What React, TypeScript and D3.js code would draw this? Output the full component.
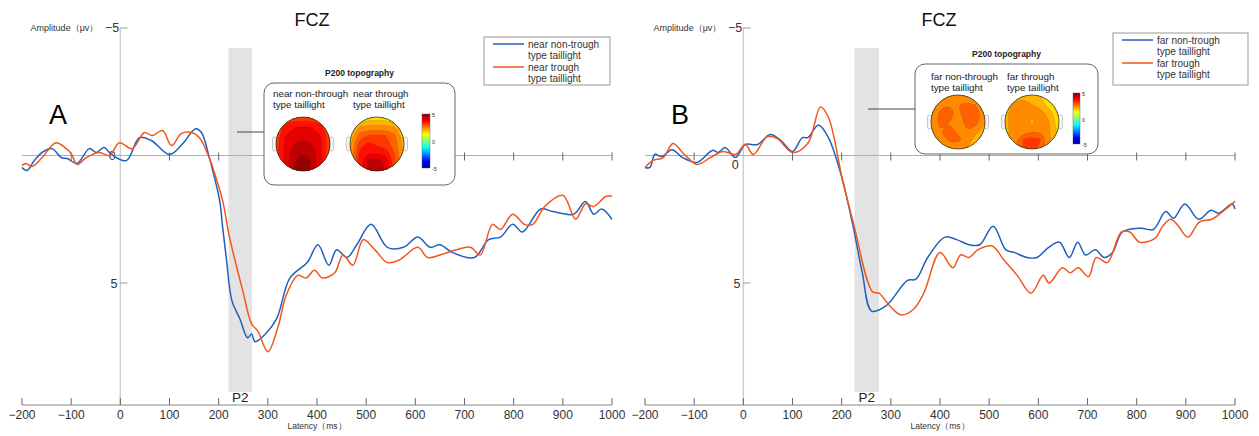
import React from 'react';
import * as d3 from 'd3';

// latency ticks (ms)
const latencyTicks = d3.range(-200, 1001, 100);

// panel A: near condition, [ms, µV]
const nearNonTrough: [number, number][] = [
  [-200, 0.47], [-190, 0.59], [-175, 0.2], [-159, -0.12], [-139, -0.27], [-120, 0.08], [-108, 0.12],
  [-88, 0.31], [-63, -0.27], [-49, -0.12], [-33, -0.31], [-18, -0.04], [12, 0.2], [39, -0.7],
  [63, -0.59], [100, -0.04], [127, -0.47], [153, -1.05], [165, -0.9], [181, 0.08], [188, 0.6],
  [202, 1.76], [208, 2.8], [216, 4.1], [227, 5.7], [243, 6.4], [259, 7.15], [267, 7.0], [274, 7.3],
  [295, 7.0], [318, 6.4], [345, 4.8], [380, 4.2], [402, 3.5], [424, 4.3], [440, 3.7], [461, 4.0],
  [481, 3.5], [510, 2.7], [543, 3.6], [576, 3.6], [605, 3.2], [630, 3.6], [650, 3.5], [675, 3.8],
  [720, 4.0], [749, 3.3], [773, 3.2], [798, 2.7], [818, 3.0], [855, 2.1], [880, 2.2], [922, 2.3],
  [946, 1.8], [963, 2.3], [979, 2.1], [1000, 2.5],
];
const nearTrough: [number, number][] = [
  [-200, 0.39], [-192, 0.31], [-180, 0.43], [-159, 0.08], [-131, -0.5], [-110, -0.27], [-100, -0.08],
  [-88, 0.35], [-69, 0.08], [-43, -0.12], [-22, 0], [-2, -0.5], [24, -0.27], [49, -0.9], [65, -0.78],
  [86, -0.98], [104, -0.39], [124, -0.86], [145, -0.9], [161, -0.7], [181, 0.1], [195, 0.9],
  [208, 1.76], [222, 3.2], [237, 4.4], [249, 5.3], [267, 6.6], [280, 6.9], [300, 7.7], [321, 6.7],
  [337, 5.5], [361, 4.7], [378, 4.8], [395, 4.5], [411, 4.8], [436, 4.6], [453, 3.9], [473, 4.3],
  [494, 3.3], [518, 3.7], [543, 4.2], [567, 4.1], [605, 3.6], [625, 4.0], [650, 3.9], [683, 3.7],
  [712, 3.6], [732, 3.9], [757, 2.7], [773, 2.9], [798, 2.3], [822, 2.7], [839, 2.7], [863, 2.0],
  [900, 1.56], [926, 2.5], [946, 1.9], [963, 2.0], [988, 1.6], [1000, 1.6],
];

// panel B: far condition, [ms, µV]
const farNonTrough: [number, number][] = [
  [-200, 0.47], [-190, 0.47], [-180, -0.04], [-166, 0.04], [-145, -0.23], [-124, 0.08], [-94, 0.27],
  [-63, -0.2], [-51, -0.12], [-37, -0.31], [-16, 0.08], [4, -0.43], [29, -0.43], [55, -0.82],
  [76, -0.59], [100, -0.16], [120, -0.7], [131, -0.7], [153, -1.2], [173, -0.7], [198, 0.7],
  [222, 2.66], [242, 4.6], [261, 6.1], [290, 5.9], [334, 4.9], [351, 4.85], [375, 4.0], [410, 3.2],
  [434, 3.3], [459, 3.5], [481, 3.5], [508, 2.77], [534, 3.7], [551, 3.8], [577, 4.0], [597, 4.0],
  [621, 3.6], [643, 3.4], [663, 4.0], [680, 3.4], [696, 3.9], [716, 3.7], [734, 4.0], [751, 3.8],
  [771, 3.0], [808, 2.85], [834, 2.9], [859, 2.2], [875, 2.46], [898, 1.9], [926, 2.5], [951, 2.15],
  [967, 2.26], [994, 1.9], [1000, 2.1],
];
const farTrough: [number, number][] = [
  [-200, 0.47], [-184, 0.2], [-163, 0.08], [-143, -0.47], [-122, -0.08], [-94, 0.35], [-67, 0.08],
  [-41, -0.16], [-16, -0.04], [4, -0.43], [20, -0.04], [49, -0.74], [69, -0.66], [100, -0.12],
  [131, -0.47], [157, -1.9], [173, -1.5], [202, 0.98], [224, 2.66], [263, 5.35], [276, 5.4],
  [298, 5.9], [320, 6.25], [345, 6.05], [367, 5.4], [400, 3.8], [426, 4.4], [442, 3.9], [459, 4.0],
  [477, 3.7], [506, 3.55], [530, 4.1], [557, 4.7], [585, 5.4], [610, 4.7], [622, 5.0], [649, 4.4],
  [665, 4.6], [681, 4.4], [702, 4.75], [718, 4.0], [740, 4.2], [769, 3.0], [786, 3.0], [806, 3.4],
  [837, 3.25], [853, 2.77], [869, 2.5], [882, 2.7], [904, 3.2], [928, 2.6], [953, 2.5], [978, 2.15],
  [1000, 1.8],
];

// P200 topography grids (µV), rows front -> back
const topoNearNonTrough = [
  [2.8, 3.0, 3.2, 3.2, 3.2, 3.0, 2.8],
  [3.0, 3.6, 3.8, 3.8, 3.8, 3.6, 3.0],
  [3.2, 3.8, 4.0, 4.1, 4.0, 3.8, 3.2],
  [3.3, 3.9, 4.2, 4.3, 4.2, 3.9, 3.2],
  [3.3, 4.0, 4.4, 4.6, 4.4, 3.9, 3.1],
  [3.2, 4.0, 4.6, 4.9, 4.6, 3.9, 3.0],
  [3.0, 3.8, 4.6, 5.0, 4.5, 3.6, 2.8],
];
const topoNearTrough = [
  [1.2, 1.4, 1.6, 1.6, 1.6, 1.4, 1.2],
  [1.8, 2.2, 2.3, 2.3, 2.3, 2.2, 1.8],
  [2.0, 2.8, 3.0, 3.0, 3.0, 2.7, 2.0],
  [2.2, 3.2, 3.5, 3.3, 3.2, 2.8, 2.1],
  [2.3, 3.5, 3.8, 3.7, 3.6, 3.0, 2.2],
  [2.3, 3.6, 4.3, 4.4, 4.1, 3.2, 2.2],
  [2.2, 3.4, 4.4, 4.6, 4.2, 3.0, 2.0],
];
const topoFarNonTrough = [
  [2.0, 2.2, 2.3, 2.3, 2.3, 2.2, 2.0],
  [2.2, 2.5, 2.6, 2.6, 2.7, 2.6, 2.3],
  [2.3, 2.7, 2.8, 2.5, 2.8, 2.9, 2.4],
  [2.3, 2.8, 2.6, 2.4, 2.7, 2.8, 2.3],
  [2.2, 2.6, 2.7, 2.5, 2.6, 2.4, 2.0],
  [2.1, 2.4, 2.7, 2.7, 2.5, 2.0, 1.3],
  [2.0, 2.2, 2.4, 2.4, 2.2, 1.6, 1.0],
];
const topoFarTrough = [
  [1.8, 2.0, 2.1, 2.0, 1.8, 1.5, 1.2],
  [2.0, 2.3, 2.4, 2.2, 2.0, 1.6, 1.3],
  [2.1, 2.5, 2.6, 2.3, 2.4, 2.0, 1.5],
  [2.1, 2.5, 2.4, 2.1, 2.4, 2.2, 1.6],
  [2.1, 2.4, 2.3, 2.5, 2.5, 2.2, 1.7],
  [2.0, 2.5, 3.0, 3.2, 3.0, 2.3, 1.8],
  [1.9, 2.3, 3.0, 3.2, 2.9, 2.1, 1.7],
];

const jetColors = ['#00008f', '#0000ff', '#0080ff', '#00ffff', '#80ff80', '#ffff00', '#ff8000', '#ff0000', '#800000'];
const jet = d3.scaleLinear<string>().domain(d3.range(9).map(i => -5 + i * 1.25)).range(jetColors).clamp(true);

const BLUE = '#1f5fbf';
const RED = '#f2561d';
const FONT = '"Liberation Sans", Arial, Helvetica, sans-serif';

const yScale = d3.scaleLinear().domain([-5, 5]).range([28, 283]);
const AXIS_Y = 405;

function Head({ cx, cy, r, grid, id }: { cx: number; cy: number; r: number; grid: number[][]; id: string }) {
  const n = grid.length;
  const m = grid[0].length;
  const contours = d3.contours().size([m, n]).thresholds(d3.range(-5, 5.01, 0.4))(grid.flat());
  // grid is stretched a little past the scalp so the square corners fall outside
  const pad = 1.12;
  const sx = (x: number) => cx - r * pad + (x / m) * 2 * r * pad;
  const sy = (y: number) => cy - r * pad + (y / n) * 2 * r * pad;
  const ringLine = d3.line<number[]>().x(q => sx(q[0])).y(q => sy(q[1])).curve(d3.curveBasisClosed);
  const pathOf = (mp: d3.ContourMultiPolygon) =>
    mp.coordinates.map(poly => poly.map(ring => ringLine(ring.slice(0, -1)) || '').join('')).join('');
  const minV = d3.min(grid.flat()) as number;
  return (
    <g>
      <clipPath id={id}><circle cx={cx} cy={cy} r={r} /></clipPath>
      {/* ears */}
      <rect x={cx - r - 3.5} y={cy - 7} width={4.5} height={14} rx={2} fill="#f4f4f4" stroke="#aaa" strokeWidth={0.6} />
      <rect x={cx + r - 1} y={cy - 7} width={4.5} height={14} rx={2} fill="#f4f4f4" stroke="#aaa" strokeWidth={0.6} />
      <g clipPath={`url(#${id})`}>
        <circle cx={cx} cy={cy} r={r} fill={jet(minV)} />
        {contours.filter(c => c.coordinates.length).map((c, i) => (
          <path key={i} d={pathOf(c)} fill={jet(c.value + 0.2)} stroke="#333" strokeOpacity={0.4} strokeWidth={0.35} fillRule="evenodd" />
        ))}
      </g>
      <circle cx={cx} cy={cy} r={r} fill="none" stroke="#222" strokeWidth={0.7} />
    </g>
  );
}

type Inset = {
  box: [number, number, number, number];
  titleY: number;
  labels: [string, string];
  labelX: [number, number];
  labelY: number;
  heads: [number, number][];
  r: number;
  grids: number[][][];
  bar: [number, number, number, number];
  link: [number, number, number];
};

type PanelProps = {
  id: string;
  letter: string;
  letterX: number;
  xRange: [number, number];
  blue: [number, number][];
  red: [number, number][];
  band: [number, number];
  titleX: number;
  legend: [number, number, number, number];
  legendLabels: [string, string];
  inset: Inset;
  zeroLabelY: number;
};

function Panel(p: PanelProps) {
  const x = d3.scaleLinear().domain([-200, 1000]).range(p.xRange);
  const y = yScale;
  const line = d3.line<[number, number]>().x(d => x(d[0])).y(d => y(d[1])).curve(d3.curveCatmullRom.alpha(0.5));
  const x0 = x(0);
  const [lx, ly, lw, lh] = p.legend;
  const ins = p.inset;
  const [bx, by, bw, bh] = ins.box;
  const [cbx, cby, cbw, cbh] = ins.bar;
  return (
    <g fontFamily={FONT}>
      {/* P2 window */}
      <rect x={x(p.band[0])} y={48} width={x(p.band[1]) - x(p.band[0])} height={344} fill="#e3e3e3" />
      <text x={(x(p.band[0]) + x(p.band[1])) / 2} y={402} textAnchor="middle" fontSize={13.5} fill="#222">P2</text>

      {/* y axis */}
      <line x1={x0} x2={x0} y1={y(-5)} y2={AXIS_Y} stroke="#cfcfcf" strokeWidth={1.5} />
      {[-5, 5].map(v => (
        <line key={v} x1={x0} x2={x0 + 7} y1={y(v)} y2={y(v)} stroke="#999" strokeWidth={1} />
      ))}
      <text x={x0 - 1} y={y(-5) + 4} textAnchor="end" fontSize={12.5} fill="#333">−5</text>
      <text x={x0 - 3} y={y(5) + 5} textAnchor="end" fontSize={12.5} fill="#333">5</text>
      <text x={x0 - 22} y={y(-5) + 3} textAnchor="end" fontSize={9} fill="#333">Amplitude（μv）</text>
      <text x={x0 - 8} y={p.zeroLabelY} textAnchor="middle" fontSize={12.5} fill="#333">0</text>

      {/* zero line */}
      <line x1={x(-200)} x2={x(1000)} y1={y(0)} y2={y(0)} stroke="#b0b0b0" strokeWidth={1.2} />
      {latencyTicks.filter(t => t !== 0 && t !== -200).map(t => (
        <line key={t} x1={x(t)} x2={x(t)} y1={y(0) - 3} y2={y(0) + 5} stroke="#666" strokeWidth={1} />
      ))}

      {/* x axis */}
      <line x1={x(-200)} x2={x(1000)} y1={AXIS_Y} y2={AXIS_Y} stroke="#888" strokeWidth={1} />
      {latencyTicks.map(t => (
        <g key={t}>
          <line x1={x(t)} x2={x(t)} y1={AXIS_Y - 7} y2={AXIS_Y} stroke="#666" strokeWidth={1} />
          <text x={x(t)} y={AXIS_Y + 14} textAnchor="middle" fontSize={12} fill="#333">{t < 0 ? `−${-t}` : t}</text>
        </g>
      ))}
      <text x={x(400)} y={AXIS_Y + 24} textAnchor="middle" fontSize={8.5} fill="#333">Latency（ms）</text>

      {/* ERP waves */}
      <path d={line(p.blue) || ''} fill="none" stroke={BLUE} strokeWidth={1.5} />
      <path d={line(p.red) || ''} fill="none" stroke={RED} strokeWidth={1.5} />

      <text x={p.letterX} y={124} fontSize={27} fill="#000">{p.letter}</text>
      <text x={p.titleX} y={26} textAnchor="middle" fontSize={18} fill="#111">FCZ</text>

      {/* legend */}
      <rect x={lx} y={ly} width={lw} height={lh} fill="white" stroke="#999" strokeWidth={1} />
      {[BLUE, RED].map((c, i) => (
        <g key={c}>
          <line x1={lx + 9} x2={lx + 40} y1={ly + 7 + i * 23} y2={ly + 7 + i * 23} stroke={c} strokeWidth={1.5} />
          <text x={lx + 44} y={ly + 10.5 + i * 23} fontSize={10} fill="#333">{p.legendLabels[i]}</text>
          <text x={lx + 44} y={ly + 21.5 + i * 23} fontSize={10} fill="#333">type taillight</text>
        </g>
      ))}

      {/* topography inset */}
      <line x1={ins.link[0]} x2={ins.link[1]} y1={ins.link[2]} y2={ins.link[2]} stroke="#444" strokeWidth={1} />
      <text x={bx + bw / 2} y={ins.titleY} textAnchor="middle" fontSize={8.5} fontWeight="bold" fill="#222">P200 topography</text>
      <rect x={bx} y={by} width={bw} height={bh} rx={10} fill="white" stroke="#666" strokeWidth={1} />
      {ins.labels.map((t, i) => (
        <g key={t}>
          <text x={ins.labelX[i]} y={ins.labelY} fontSize={9.8} fill="#222">{t}</text>
          <text x={ins.labelX[i]} y={ins.labelY + 11} fontSize={9.8} fill="#222">type taillight</text>
        </g>
      ))}
      {ins.heads.map((h, i) => (
        <Head key={i} id={`${p.id}-head-${i}`} cx={h[0]} cy={h[1]} r={ins.r} grid={ins.grids[i]} />
      ))}
      <defs>
        <linearGradient id={`${p.id}-jet`} x1="0" y1="1" x2="0" y2="0">
          {jetColors.map((c, i) => (
            <stop key={i} offset={`${(i / (jetColors.length - 1)) * 100}%`} stopColor={c} />
          ))}
        </linearGradient>
      </defs>
      <rect x={cbx} y={cby} width={cbw} height={cbh} fill={`url(#${p.id}-jet)`} stroke="#555" strokeWidth={0.4} />
      {[5, 0, -5].map((v, i) => (
        <text key={v} x={cbx + cbw + 2} y={cby + 3 + (i * cbh) / 2} fontSize={5.5} fill="#333">{v}</text>
      ))}
    </g>
  );
}

export default function App() {
  return (
    <svg width={1259} height={436} style={{ position: 'absolute', left: 0, top: 0, background: 'white' }}>
      <Panel
        id="a"
        letter="A"
        letterX={49}
        xRange={[22, 612]}
        blue={nearNonTrough}
        red={nearTrough}
        band={[220, 268]}
        titleX={312}
        legend={[484, 37, 126, 48]}
        legendLabels={['near non-trough', 'near trough']}
        zeroLabelY={160}
        inset={{
          box: [264, 83, 191, 102],
          titleY: 76,
          labels: ['near non-through', 'near through'],
          labelX: [273, 353],
          labelY: 97,
          heads: [[303, 144], [377, 144]],
          r: 27,
          grids: [topoNearNonTrough, topoNearTrough],
          bar: [422, 114, 8, 54],
          link: [237, 264, 132],
        }}
      />
      <Panel
        id="b"
        letter="B"
        letterX={671}
        xRange={[645, 1235]}
        blue={farNonTrough}
        red={farTrough}
        band={[226, 276]}
        titleX={939}
        legend={[1113, 33, 135, 52]}
        legendLabels={['far non-trough', 'far trough']}
        zeroLabelY={169}
        inset={{
          box: [915, 64, 183, 90],
          titleY: 57,
          labels: ['far non-through', 'far through'],
          labelX: [931, 1007],
          labelY: 80,
          heads: [[958, 122], [1032, 122]],
          r: 27,
          grids: [topoFarNonTrough, topoFarTrough],
          bar: [1073, 93, 7, 51],
          link: [868, 915, 109],
        }}
      />
    </svg>
  );
}
